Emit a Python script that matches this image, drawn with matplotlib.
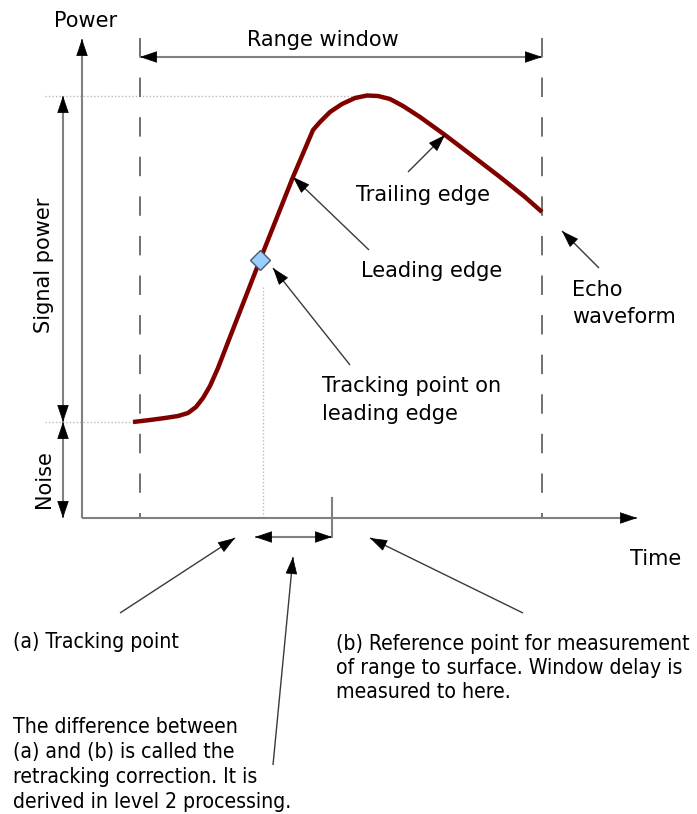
"""
Radar altimeter echo waveform diagram: range window, leading/trailing edge,
tracking point and retracking correction.

Writes: out.png (697x814 px)
"""

import matplotlib
matplotlib.use("Agg")
import matplotlib.pyplot as plt
from matplotlib.patches import FancyArrowPatch
import numpy as np

# ---------------------------------------------------------------------------
# Data (time / power measured from the axes origin, in drawing units)
# ---------------------------------------------------------------------------
wave_time = np.array([51, 68, 83, 96, 106, 114, 121, 128, 136, 148, 178, 211,
                      231, 238, 248, 260, 273, 285, 296, 308, 321, 338, 363,
                      388, 418, 443, 460])
wave_power = np.array([96, 98, 100, 102, 105, 111, 120, 132, 150, 181, 258,
                       341, 388, 396, 406, 414, 420, 422.5, 422, 419, 412,
                       401, 383, 364, 341, 321, 306])

noise_level = 96          # power of the noise floor
peak_level = 422          # power at the echo peak
window_start = 58         # time where the range window opens
window_end = 460          # time where the range window closes
track_time, track_power = 178, 258    # tracking point on leading edge
ref_time = 250            # reference point (window delay)

# origin of the axes in pixels
X0, Y0 = 82, 518


def px(t, p):
    return X0 + t, Y0 - p


W, H = 697, 814
fig = plt.figure(figsize=(W / 100, H / 100), dpi=100)
ax = fig.add_axes([0, 0, 1, 1])
ax.set_xlim(0, W)
ax.set_ylim(H, 0)
ax.axis("off")

AX_GRAY = "#808080"
DASH_GRAY = "#707070"
NOTE = "#3a3a3a"
FS = 15
FS_NOTE = 15.2
HEAD = "-|>,head_length=0.56,head_width=0.19"


def head(tip, frm, color="black"):
    """Black filled arrow head at `tip`, pointing away from `frm`."""
    tip = np.asarray(tip, float)
    frm = np.asarray(frm, float)
    d = (tip - frm) / np.hypot(*(tip - frm))
    a = FancyArrowPatch(tip - d * 16, tip, arrowstyle=HEAD, mutation_scale=20,
                        color=color, lw=0.5, shrinkA=0, shrinkB=0, zorder=6)
    ax.add_patch(a)


def shaft(p0, p1, color=AX_GRAY, lw=1.5, ends=(False, True)):
    ax.plot([p0[0], p1[0]], [p0[1], p1[1]], color=color, lw=lw,
            solid_capstyle="butt", zorder=3)
    if ends[0]:
        head(p0, p1)
    if ends[1]:
        head(p1, p0)


def note(tail, tip):
    shaft(tail, tip, color=NOTE, lw=1.0)


def lines(x, y0, step, texts, ha="left", fs=FS, **kw):
    for i, s in enumerate(texts):
        ax.text(x, y0 + i * step, s, ha=ha, va="baseline", fontsize=fs,
                color="black", **kw)


# ---- axes -----------------------------------------------------------------
shaft(px(0, 0), (X0, 39))
shaft(px(0, 0), (637, Y0))
ax.text(86, 27, "Power", ha="center", va="baseline", fontsize=FS)
ax.text(656, 565, "Time", ha="center", va="baseline", fontsize=FS)

# ---- range window -----------------------------------------------------------
plt.rcParams["lines.scale_dashes"] = False
for t in (window_start, window_end):
    ax.plot([X0 + t, X0 + t], [38, Y0], color=DASH_GRAY, lw=1.4,
            dashes=(14, 14.5), zorder=2)
shaft((X0 + window_start, 57), (X0 + window_end, 57), ends=(True, True))
ax.text(323, 46, "Range window", ha="center", va="baseline", fontsize=FS)

# ---- guide dotted lines ----------------------------------------------------
ax.plot([45, X0 + wave_time[np.argmax(wave_power)]], [Y0 - peak_level] * 2,
        color="#bbbbbb", lw=1, ls=(0, (1, 1.5)), zorder=1)
ax.plot([45, X0 + wave_time[0]], [Y0 - noise_level] * 2,
        color="#bbbbbb", lw=1, ls=(0, (1, 1.5)), zorder=1)
ax.plot([X0 + track_time + 3] * 2, [287, Y0],
        color="#bbbbbb", lw=1, ls=(0, (1, 1.5)), zorder=1)

# ---- signal power / noise arrows -------------------------------------------
shaft((63, Y0 - peak_level), (63, Y0 - noise_level), ends=(True, True))
shaft((63, Y0 - noise_level), (63, Y0), ends=(True, True))
ax.text(44, 265, "Signal power", rotation=90, ha="center", va="center",
        fontsize=FS)
ax.text(44, 479, "Noise", rotation=90, ha="center", va="center", fontsize=FS)

# ---- echo waveform -----------------------------------------------------------
ax.plot(X0 + wave_time, Y0 - wave_power, color="#800000", lw=3.2,
        solid_joinstyle="round", solid_capstyle="butt", zorder=4)
ax.plot(X0 + track_time, Y0 - track_power, marker="D", ms=10,
        mfc="#99ccff", mec="#4d5a66", mew=1.0, zorder=5)

# ---- reference point and retracking correction -------------------------------
ax.plot([X0 + ref_time] * 2, [498, 537], color=AX_GRAY, lw=1.5, zorder=3)
shaft((255, 537), (X0 + ref_time, 537), ends=(True, True))

# ---- annotations -------------------------------------------------------------
note((408, 172), (445, 135))
lines(423, 201, 0, ["Trailing edge"], ha="center")
note((369, 250), (293, 177))
lines(432, 277, 0, ["Leading edge"], ha="center")
note((599, 268), (562, 231))
lines(572, 296, 27, ["Echo", "waveform"])
note((350, 365), (273, 268))
lines(322, 392, 28, ["Tracking point on", "leading edge"])

note((120, 613), (235, 538))
note((273, 765), (293, 557))
note((523, 613), (370, 538))

cond = dict(fontstretch="condensed", fs=FS_NOTE)
lines(13, 648, 25, ["(a) Tracking point"], **cond)
lines(336, 650, 24, ["(b) Reference point for measurement",
                     "of range to surface. Window delay is",
                     "measured to here."], **cond)
lines(13, 733, 25, ["The difference between",
                    "(a) and (b) is called the",
                    "retracking correction. It is",
                    "derived in level 2 processing."], **cond)

fig.savefig("out.png", dpi=100)
plt.close(fig)
